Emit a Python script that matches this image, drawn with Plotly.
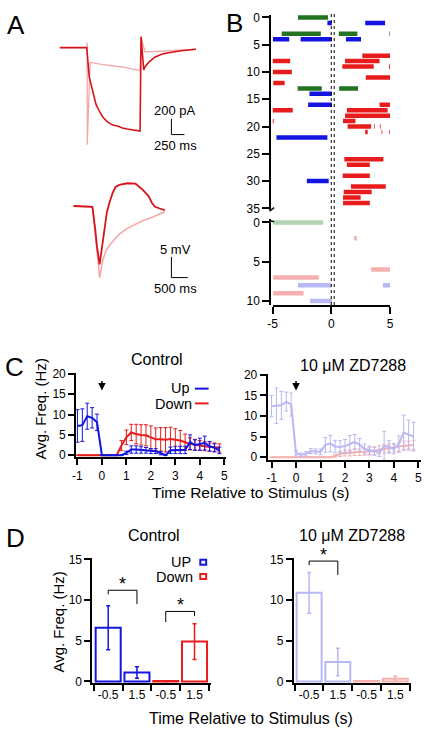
import plotly.graph_objects as go

W, H = 427, 734
FONT = "Liberation Sans, Arial, Helvetica, sans-serif"

def X(px):
    return px / W

def Y(py):
    return 1 - py / H

# ---------------- Panel A data ----------------
# membrane current traces (time ms, current pA)
a_cur_t_ctrl = [-526, -9, 38, 75, 113, 169, 244, 301, 395, 489, 583, 677, 771, 865, 959, 1015,
                1034, 1085, 1109, 1184, 1297, 1429, 1560, 1805, 2087]
a_cur_i_ctrl = [0, 0, -368, -471, -596, -721, -821, -884, -946, -984, -996, -1021, -1034, -1046,
                -1059, -1059, 141, -284, -246, -184, -121, -84, -65, -40, -21]
a_cur_t_zd = [-526, -9, 0, 0, 56, 301, 677, 1015, 1034, 1109, 1429, 1805, 2087]
a_cur_i_zd = [0, 0, 58, -1234, -188, -215, -246, -293, 133, -55, -46, -34, -18]
# voltage traces (time ms, mV)
a_v_t_ctrl = [-579, 0, 81, 141, 222, 291, 351, 441, 522, 621, 711, 822, 1071, 1320, 1521, 1722,
              1821, 1920, 2061, 2220]
a_v_ctrl = [0, -0.2, -5.2, -9.9, -14.1, -9.9, -5.9, -1.6, 0.8, 3.2, 4.6, 5.1, 5.5, 5.4, 4.1, 2.4,
            0.8, -0.2, -0.6, -1.0]
a_v_t_zd = [-579, 0, 81, 141, 222, 321, 420, 522, 621, 822, 1071, 1320, 1551, 1821, 2031, 2220]
a_v_zd = [0, -0.2, -6.4, -11.6, -17.3, -13.0, -10.7, -9.5, -8.6, -6.8, -5.4, -4.4, -3.5, -2.8,
          -2.1, -1.4]
# scale bars: (corner time, corner value, time length, value length)
a_cur_scale = (1617, -1105, 250, 200)
a_v_scale = (2421, -17.3, 500, 5)

# ---------------- Panel B data (row, start s, end s) ----------------
ctrl_green = [(0, -2.83, -0.28), (3, -4.22, -0.89), (3, 0.64, 2.22), (3, 4.95, 5.0),
              (13, -2.86, -0.81), (13, 0.67, 2.28)]
ctrl_blue = [(1, -0.33, 0.05), (1, 2.89, 4.58), (4, -4.97, -3.58), (4, -2.61, 0.05),
             (4, 1.25, 2.53), (14, -1.86, 0.05), (16, -1.97, 0.05), (22, -4.67, -0.33),
             (30, -2.08, -0.22)]
ctrl_red = [(7, 2.64, 5.0), (8, -5.0, -3.5), (8, 1.17, 4.11), (9, 0.94, 3.61), (9, 4.92, 5.0),
            (10, -4.97, -3.36), (11, 2.94, 5.0), (12, -4.94, -3.97), (16, 4.11, 5.0),
            (17, -5.0, -3.28), (17, 1.33, 4.8), (18, 1.17, 5.0), (19, -5.0, -4.9), (19, 1.0, 2.06),
            (20, 1.39, 3.39), (20, 3.66, 3.72), (20, 4.14, 4.2), (21, 2.89, 3.1),
            (21, 4.28, 4.34), (21, 4.92, 4.98), (26, 1.11, 4.44), (27, 1.33, 3.28),
            (29, 0.97, 3.28), (31, 1.67, 4.64), (32, 1.06, 3.44), (33, 1.0, 2.5), (34, 1.0, 3.28)]
zd_green = [(0, -4.94, -0.69)]
zd_blue = [(8, -2.83, 0.0), (8, 4.39, 5.0), (10, -1.8, 0.05)]
zd_red = [(2, 1.94, 2.17), (6, 3.39, 5.0), (7, -4.94, -1.06), (9, -4.94, -2.36)]
stim_window = [0.0, 0.25]

# ---------------- Panel C data ----------------
c_time = [-1.0, -0.8, -0.6, -0.4, -0.2, 0.0, 0.2, 0.4, 0.6, 0.8, 1.0, 1.2, 1.4, 1.6, 1.8, 2.0,
          2.2, 2.4, 2.6, 2.8, 3.0, 3.2, 3.4, 3.6, 3.8, 4.0, 4.2, 4.4, 4.6, 4.8]
ctrl_up = [7.2, 7.4, 9.6, 9.2, 8.1, 0, 0, 0, 0, 0, 0.6, 1.4, 1.4, 1.3, 1.2, 1.0, 1.0, 0.5, 0.0,
           1.2, 1.3, 1.3, 1.3, 3.2, 2.5, 2.7, 3.0, 2.2, 1.8, 1.2]
ctrl_up_err = [4.0, 4.0, 3.2, 2.5, 2.0, 0, 0, 0, 0, 0, 0.4, 0.9, 0.9, 0.8, 0.7, 0.6, 0.6, 0.4, 0.0,
               0.8, 0.9, 0.9, 0.9, 1.8, 1.3, 1.5, 1.7, 1.2, 1.0, 0.8]
ctrl_down = [0, 0, 0, 0, 0, 0, 0, 0, 0, 2.4, 4.4, 5.6, 5.2, 5.0, 4.9, 4.4, 3.9, 3.9, 3.8, 4.0, 3.8,
             3.6, 3.2, 2.8, 2.6, 2.4, 2.2, 2.0, 2.0, 1.8]
ctrl_down_err = [0, 0, 0, 0, 0, 0, 0, 0, 0, 1.2, 1.8, 2.0, 2.4, 2.5, 2.6, 2.8, 2.8, 2.9, 3.0, 2.9,
                 2.7, 2.5, 2.0, 1.5, 1.3, 1.2, 1.1, 1.0, 1.0, 1.0]
zd_up = [12.4, 12.5, 12.6, 13.5, 12.8, 1.0, 0.6, 0.8, 1.5, 1.4, 1.3, 3.0, 3.3, 2.6, 2.5, 2.7, 3.3,
         3.7, 3.0, 2.0, 1.7, 1.5, 1.0, 2.8, 2.5, 2.0, 3.2, 6.0, 5.5, 5.0]
zd_up_err = [2.6, 4.3, 3.4, 2.3, 2.8, 0.5, 0.4, 0.5, 0.6, 0.6, 0.7, 1.8, 2.0, 1.5, 1.5, 1.6, 2.0,
             1.8, 1.5, 1.2, 1.0, 1.0, 0.8, 3.5, 1.5, 1.2, 2.0, 4.2, 3.5, 3.5]
zd_down = [0, 0, 0, 0, 0, 0, 0, 0, 0, 0, 0, 0, 0, 0.3, 0.8, 1.0, 1.0, 1.2, 1.2, 1.3, 1.4, 1.5, 1.8,
           2.0, 2.2, 2.3, 2.5, 2.8, 2.8, 3.0]
zd_down_err = [0, 0, 0, 0, 0, 0, 0, 0, 0, 0, 0, 0, 0, 0.3, 0.6, 0.7, 0.7, 0.8, 0.8, 0.8, 0.9, 0.9,
               1.0, 1.0, 1.0, 1.0, 1.1, 1.1, 1.1, 1.1]
c_xticks = [-1, 0, 1, 2, 3, 4, 5]
c_xticklabels = ["-1", "0", "1", "2", "3", "4", "5"]

# ---------------- Panel D data ----------------
d_pos = [0, 1, 2, 3]
d_labels = ["-0.5", "1.5", "-0.5", "1.5"]
d_ctrl = [6.6, 1.1, 0.05, 4.9]
d_ctrl_err = [2.7, 0.7, 0.05, 2.2]
d_zd = [10.9, 2.4, 0.05, 0.35]
d_zd_err = [2.5, 1.7, 0.05, 0.3]
# significance brackets: (x left, x right, top y, left leg y, right leg y)
d_ctrl_sig = [(0, 1, 11.2, 10.7, 9.5), (2, 3, 8.6, 7.3, 8.05)]
d_zd_sig = [(0, 1, 14.8, 14.3, 13.1)]

# colours
BLUE = "rgb(20,20,225)"
RED = "rgb(232,28,28)"
GREEN = "rgb(35,115,35)"
LBLUE = "rgb(184,184,245)"
PINK = "rgb(246,176,176)"
LGREEN = "rgb(178,212,178)"
DRED = "rgb(215,20,25)"
LRED = "rgb(244,168,168)"

fig = go.Figure()

# ---- A ----
fig.add_trace(go.Scatter(x=a_cur_t_zd, y=a_cur_i_zd, mode="lines", line=dict(color=LRED, width=1.3),
                         xaxis="x", yaxis="y"))
fig.add_trace(go.Scatter(x=a_cur_t_ctrl, y=a_cur_i_ctrl, mode="lines", line=dict(color=DRED, width=1.6),
                         xaxis="x", yaxis="y"))
t0, v0, dt, dv = a_cur_scale
fig.add_trace(go.Scatter(x=[t0, t0, t0 + dt], y=[v0 + dv, v0, v0], mode="lines",
                         line=dict(color="black", width=1), xaxis="x", yaxis="y"))
fig.add_trace(go.Scatter(x=a_v_t_zd, y=a_v_zd, mode="lines", line=dict(color=LRED, width=1.6),
                         xaxis="x2", yaxis="y2"))
fig.add_trace(go.Scatter(x=a_v_t_ctrl, y=a_v_ctrl, mode="lines", line=dict(color=DRED, width=1.8),
                         xaxis="x2", yaxis="y2"))
t0, v0, dt, dv = a_v_scale
fig.add_trace(go.Scatter(x=[t0, t0, t0 + dt], y=[v0 + dv, v0, v0], mode="lines",
                         line=dict(color="black", width=1), xaxis="x2", yaxis="y2"))

# ---- B ----
def raster(segs, color, xa, ya):
    xs, ys = [], []
    for r, s, e in segs:
        xs += [s, e, None]
        ys += [r, r, None]
    fig.add_trace(go.Scatter(x=xs, y=ys, mode="lines", line=dict(color=color, width=4.5),
                             xaxis=xa, yaxis=ya))

raster(ctrl_green, GREEN, "x3", "y3")
raster(ctrl_blue, BLUE, "x3", "y3")
raster(ctrl_red, RED, "x3", "y3")
raster(zd_green, LGREEN, "x4", "y4")
raster(zd_blue, LBLUE, "x4", "y4")
raster(zd_red, PINK, "x4", "y4")

# ---- C ----
def ctrace(y, err, color, xa, ya):
    fig.add_trace(go.Scatter(x=c_time, y=y, mode="lines", line=dict(color=color, width=2),
                             error_y=dict(type="data", array=err, color=color, thickness=1, width=2),
                             xaxis=xa, yaxis=ya))

ctrace(ctrl_down, ctrl_down_err, RED, "x5", "y5")
ctrace(ctrl_up, ctrl_up_err, BLUE, "x5", "y5")
ctrace(zd_down, zd_down_err, PINK, "x6", "y6")
ctrace(zd_up, zd_up_err, LBLUE, "x6", "y6")

# ---- D ----
def dbars(pos, vals, errs, color, xa, ya):
    fig.add_trace(go.Bar(x=pos, y=vals, width=0.87,
                         marker=dict(color="white", line=dict(color=color, width=2)),
                         error_y=dict(type="data", array=errs, color=color, thickness=1.5, width=2),
                         xaxis=xa, yaxis=ya))

dbars(d_pos[:2], d_ctrl[:2], d_ctrl_err[:2], BLUE, "x7", "y7")
dbars(d_pos[2:], d_ctrl[2:], d_ctrl_err[2:], RED, "x7", "y7")
dbars(d_pos[:2], d_zd[:2], d_zd_err[:2], LBLUE, "x8", "y8")
dbars(d_pos[2:], d_zd[2:], d_zd_err[2:], PINK, "x8", "y8")

shapes = []
annotations = []

def bracket(sig, xa, ya):
    for xl, xr, top, ll, rl in sig:
        shapes.append(dict(type="path", xref=xa, yref=ya,
                           path=f"M {xl},{ll} L {xl},{top} L {xr},{top} L {xr},{rl}",
                           line=dict(color="black", width=1)))
        annotations.append(dict(xref=xa, yref=ya, x=(xl + xr) / 2, y=top, text="*",
                                showarrow=False, yanchor="bottom", yshift=-6,
                                font=dict(size=18, color="black", family=FONT)))

bracket(d_ctrl_sig, "x7", "y7")
bracket(d_zd_sig, "x8", "y8")

# stimulus dotted lines in B
for xv in stim_window:
    shapes.append(dict(type="line", xref="x4", yref="paper", x0=xv, x1=xv, y0=Y(304), y1=Y(7),
                       line=dict(color="black", width=1, dash="dot")))

# small axis-break marks in B
shapes.append(dict(type="path", xref="paper", yref="paper",
                   path=f"M {X(271)},{Y(206)} L {X(271)},{Y(208)} L {X(275)},{Y(205)}",
                   line=dict(color="black", width=1.5)))
shapes.append(dict(type="path", xref="paper", yref="paper",
                   path=f"M {X(271)},{Y(218)} L {X(275)},{Y(219.5)}",
                   line=dict(color="black", width=1.5)))

# legend glyphs C
shapes.append(dict(type="line", xref="paper", yref="paper", x0=X(194), x1=X(208), y0=Y(389), y1=Y(389),
                   line=dict(color=BLUE, width=2)))
shapes.append(dict(type="line", xref="paper", yref="paper", x0=X(194), x1=X(208), y0=Y(404), y1=Y(404),
                   line=dict(color=RED, width=2)))
# legend glyphs D
shapes.append(dict(type="rect", xref="paper", yref="paper", x0=X(199.5), x1=X(205.5), y0=Y(568), y1=Y(563),
                   line=dict(color=BLUE, width=2)))
shapes.append(dict(type="rect", xref="paper", yref="paper", x0=X(199.5), x1=X(205.5), y0=Y(582.5), y1=Y(577.5),
                   line=dict(color=RED, width=2)))

def text(x, y, s, size, xanchor="center", angle=0):
    annotations.append(dict(xref="paper", yref="paper", x=X(x), y=Y(y), text=s, showarrow=False,
                            xanchor=xanchor, yanchor="middle", textangle=angle, borderpad=0,
                            font=dict(size=size, color="black", family=FONT)))

text(11, 19, "A", 26)
text(234, 17, "B", 26)
text(10, 367, "C", 26)
text(11, 541, "D", 26)
text(174, 106, "200 pA", 13)
text(174.5, 141.5, "250 ms", 13)
text(174, 248, "5 mV", 13)
text(174.5, 287, "500 ms", 13)
text(155, 359, "Control", 16)
text(356, 365, "10 μM ZD7288", 16)
text(152.5, 538, "Control", 16)
text(354.5, 538, "10 μM ZD7288", 16)
text(36, 410, "Avg. Freq. (Hz)", 15, angle=-90)
text(55, 626, "Avg. Freq. (Hz)", 15, angle=-90)
text(251, 495, "Time Relative to Stimulus (s)", 15.5)
text(251, 724, "Time Relative to Stimulus (s)", 16)
text(190, 388.5, "Up", 14.5, xanchor="right")
text(192.5, 404.5, "Down", 14.5, xanchor="right")
text(191, 565, "UP", 14.5, xanchor="right")
text(193, 580.5, "Down", 14.5, xanchor="right")

# stimulus arrows C
for xa in ["x5", "x6"]:
    annotations.append(dict(xref=xa, yref="paper", x=0, y=Y(391), ax=0, ay=-11, text="",
                            showarrow=True, arrowhead=2, arrowsize=1, arrowwidth=1.5,
                            arrowcolor="black"))

axis_common = dict(showgrid=False, zeroline=False, showline=True, linecolor="black", linewidth=2,
                   ticks="outside", tickcolor="black", tickwidth=2, ticklen=6,
                   tickfont=dict(size=12, color="black", family=FONT))
hidden = dict(visible=False, showgrid=False, zeroline=False)

layout = dict(
    width=W, height=H, margin=dict(l=0, r=0, t=0, b=0), showlegend=False,
    paper_bgcolor="white", plot_bgcolor="rgba(0,0,0,0)",
    font=dict(family=FONT, color="black"),
    xaxis=dict(domain=[X(40), X(210)], range=[-827, 2369], anchor="y", **hidden),
    yaxis=dict(domain=[Y(150), Y(20)], range=[-1346, 279], anchor="x", **hidden),
    xaxis2=dict(domain=[X(40), X(210)], range=[-1479, 3621], anchor="y2", **hidden),
    yaxis2=dict(domain=[Y(295), Y(170)], range=[-21.8, 7.93], anchor="x2", **hidden),
    xaxis3=dict(domain=[X(273.3), X(393.3)], range=[-5, 5], anchor="y3", **hidden),
    yaxis3=dict(domain=[Y(207.4), Y(8.9)], range=[35.3, -0.5], anchor="free", position=X(271),
                tickvals=[0, 5, 10, 15, 20, 25, 30, 35], **{**axis_common, "ticklen": 7}),
    xaxis4=dict(domain=[X(273.3), X(393.3)], range=[-5, 5], anchor="y4",
                tickvals=[-5, 0, 5], ticktext=["-5", "0", "5"], **{**axis_common, "ticklen": 7}),
    yaxis4=dict(domain=[Y(304), Y(217)], range=[10.5, -0.375], anchor="free", position=X(271),
                tickvals=[0, 5, 10], **{**axis_common, "ticklen": 7}),
    xaxis5=dict(domain=[X(72.7), X(226)], range=[-1.052, 5.08], anchor="y5",
                tickvals=c_xticks, ticktext=c_xticklabels, **axis_common),
    yaxis5=dict(domain=[Y(459), Y(373.5)], range=[-0.556, 20.12], anchor="x5",
                tickvals=[0, 5, 10, 15, 20], **axis_common),
    xaxis6=dict(domain=[X(268.3), X(425)], range=[-1.16, 5.108], anchor="y6",
                tickvals=c_xticks, ticktext=c_xticklabels, **axis_common),
    yaxis6=dict(domain=[Y(461.5), Y(374.5)], range=[-0.67, 20.12], anchor="x6",
                tickvals=[0, 5, 10, 15, 20], **axis_common),
    xaxis7=dict(domain=[X(89.3), X(210)], range=[-0.548, 3.558], anchor="y7",
                tickvals=d_pos, ticktext=d_labels,
                minor=dict(tickvals=[-0.5, 0.5, 1.5, 2.5, 3.5], ticks="outside", ticklen=6,
                           tickwidth=2, tickcolor="black", showgrid=False),
                **{**axis_common, "ticks": "", "ticklen": 0}),
    yaxis7=dict(domain=[Y(688.3), Y(561.5)], range=[-0.193, 15.12], anchor="x7",
                tickvals=[0, 5, 10, 15], **axis_common),
    xaxis8=dict(domain=[X(295), X(415)], range=[-0.534, 3.557], anchor="y8",
                tickvals=d_pos, ticktext=d_labels,
                minor=dict(tickvals=[-0.5, 0.5, 1.5, 2.5, 3.5], ticks="outside", ticklen=6,
                           tickwidth=2, tickcolor="black", showgrid=False),
                **{**axis_common, "ticks": "", "ticklen": 0}),
    yaxis8=dict(domain=[Y(688.3), Y(561.5)], range=[-0.193, 15.14], anchor="x8",
                tickvals=[0, 5, 10, 15], **axis_common),
    shapes=shapes, annotations=annotations,
)
fig.update_layout(**layout)
fig.write_html("out.html", config={"displayModeBar": False, "staticPlot": True},
               post_script="document.body.style.margin='0px';document.body.style.overflow='hidden';")
